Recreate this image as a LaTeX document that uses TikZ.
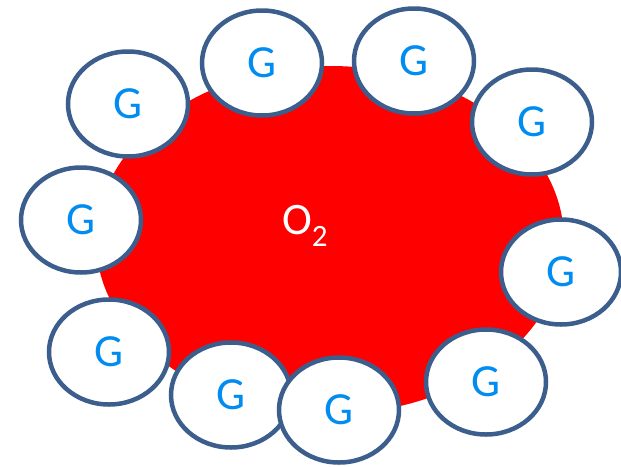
\documentclass[tikz,border=0pt]{standalone}
\usepackage{fontspec}
\setmainfont{Carlito}
\usetikzlibrary{shapes.geometric}
\definecolor{ringblue}{RGB}{60,94,140}
\definecolor{gblue}{RGB}{0,140,240}
\definecolor{corered}{RGB}{255,0,0}
\tikzset{
  core/.style={ellipse, fill=corered, draw=none, minimum width=468pt, minimum height=348pt, inner sep=0pt},
  gball/.style={ellipse, fill=white, draw=ringblue, line width=4.5pt, minimum width=120pt, minimum height=105pt, inner sep=0pt,
    text=gblue, font=\fontsize{46}{52}\selectfont},
  coretext/.style={text=white, font=\fontsize{45}{52}\selectfont, inner sep=0pt}
}
\begin{document}
\begin{tikzpicture}[x=1pt, y=-1pt]
\useasboundingbox (0,0) rectangle (621,466);
\node[core] (o) at (330,240) {};
\node[coretext, anchor=base west] (otext) at (282,234) {O\raisebox{-0.28em}{\fontsize{31}{31}\selectfont 2}};
\node[gball] (g1) at (128,104) {G};
\node[gball] (g2) at (262,63) {G};
\node[gball] (g3) at (414,61) {G};
\node[gball] (g4) at (532,122) {G};
\node[gball] (g5) at (81,220) {G};
\node[gball] (g6) at (561,272) {G};
\node[gball] (g7) at (109,352) {G};
\node[gball] (g8) at (231,395) {G};
\node[gball] (g9) at (339,410) {G};
\node[gball] (g10) at (486,382) {G};
\end{tikzpicture}
\end{document}
